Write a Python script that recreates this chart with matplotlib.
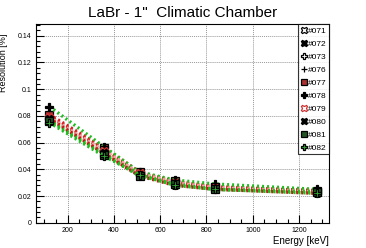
import matplotlib
matplotlib.use("Agg")
import matplotlib.pyplot as plt
from matplotlib.ticker import MultipleLocator

plt.rcParams['font.family'] = ['Liberation Sans', 'DejaVu Sans']

energy = [122, 356, 511, 662, 835, 1275]
labels = ["#071", "#072", "#073", "#076", "#077", "#078", "#079", "#080", "#081", "#082"]
r071 = [0.079, 0.053, 0.036, 0.029, 0.026, 0.023]
r072 = [0.080, 0.055, 0.037, 0.030, 0.026, 0.024]
r073 = [0.078, 0.054, 0.037, 0.031, 0.027, 0.024]
r076 = [0.077, 0.052, 0.036, 0.029, 0.025, 0.023]
r077 = [0.081, 0.056, 0.038, 0.031, 0.027, 0.024]
r078 = [0.087, 0.057, 0.038, 0.032, 0.029, 0.025]
r079 = [0.079, 0.054, 0.037, 0.030, 0.026, 0.023]
r080 = [0.078, 0.052, 0.035, 0.028, 0.025, 0.022]
r081 = [0.076, 0.051, 0.035, 0.029, 0.025, 0.023]
r082 = [0.075, 0.050, 0.036, 0.028, 0.025, 0.022]
series = [r071, r072, r073, r076, r077, r078, r079, r080, r081, r082]

line_colors = ['#d62020', '#d62020', '#f4a0a0', '#22bb22', '#d62020',
               '#22bb22', '#f4a0a0', '#c01818', '#22bb22', '#22bb22']
markers = ['X', 'X', 'P', '+', 's', 'P', 'X', 'X', 's', 'P']
mfaces = ['none', 'black', 'none', 'black', '#aa3030', 'black', 'none', 'black', '#225522', '#33aa33']
medges = ['black', 'black', 'black', 'black', 'black', 'black', '#cc3030', 'black', 'black', 'black']

fig = plt.figure(figsize=(3.66, 2.48), dpi=100)
ax = fig.add_axes([0.0984, 0.102, 0.8006, 0.800])

for ys, lab, lc, mk, mf, me in zip(series, labels, line_colors, markers, mfaces, medges):
    ax.plot(energy, ys, linestyle=(0, (0.6, 0.9)), color=lc, linewidth=2.4,
            marker=mk, markersize=5.5, markerfacecolor=mf, markeredgecolor=me,
            markeredgewidth=0.9, label=lab)

ax.set_xlim(64, 1329)
ax.set_ylim(0, 0.1486)
ax.xaxis.set_minor_locator(MultipleLocator(50))
ax.yaxis.set_minor_locator(MultipleLocator(0.004))
ax.set_xticks([200, 400, 600, 800, 1000, 1200])
ax.set_yticks([0, 0.02, 0.04, 0.06, 0.08, 0.1, 0.12, 0.14])
ax.set_yticklabels(["0", "0.02", "0.04", "0.06", "0.08", "0.1", "0.12", "0.14"])
ax.tick_params(which='both', direction='in', labelsize=5, pad=3, width=0.8)
ax.tick_params(which='major', length=6)
ax.tick_params(which='minor', length=3)
ax.tick_params(top=False, right=False)
ax.grid(True, which='major', linestyle=(0, (1, 1)), color='#999999', linewidth=0.7)
for s in ax.spines.values():
    s.set_linewidth(0.8)

ax.set_title('LaBr - 1"  Climatic Chamber', fontsize=11, pad=5)
ax.set_xlabel('Energy [keV]', fontsize=7, loc='right')
ax.xaxis.set_label_coords(1.0, -0.068)
ax.set_ylabel('Resolution [%]', fontsize=6.5, loc='top')
ax.yaxis.set_label_coords(-0.095, 0.955)

leg = ax.legend(loc='upper right', bbox_to_anchor=(1.0, 1.0), fontsize=6,
                frameon=True, fancybox=False, borderaxespad=0, handlelength=0.7,
                handletextpad=0.15, borderpad=0.3, labelspacing=0.62, markerscale=0.85)
leg.get_frame().set_edgecolor('black')
leg.get_frame().set_linewidth(0.8)
for h in leg.get_lines():
    h.set_linestyle('none')

fig.savefig('out.png', dpi=100)
